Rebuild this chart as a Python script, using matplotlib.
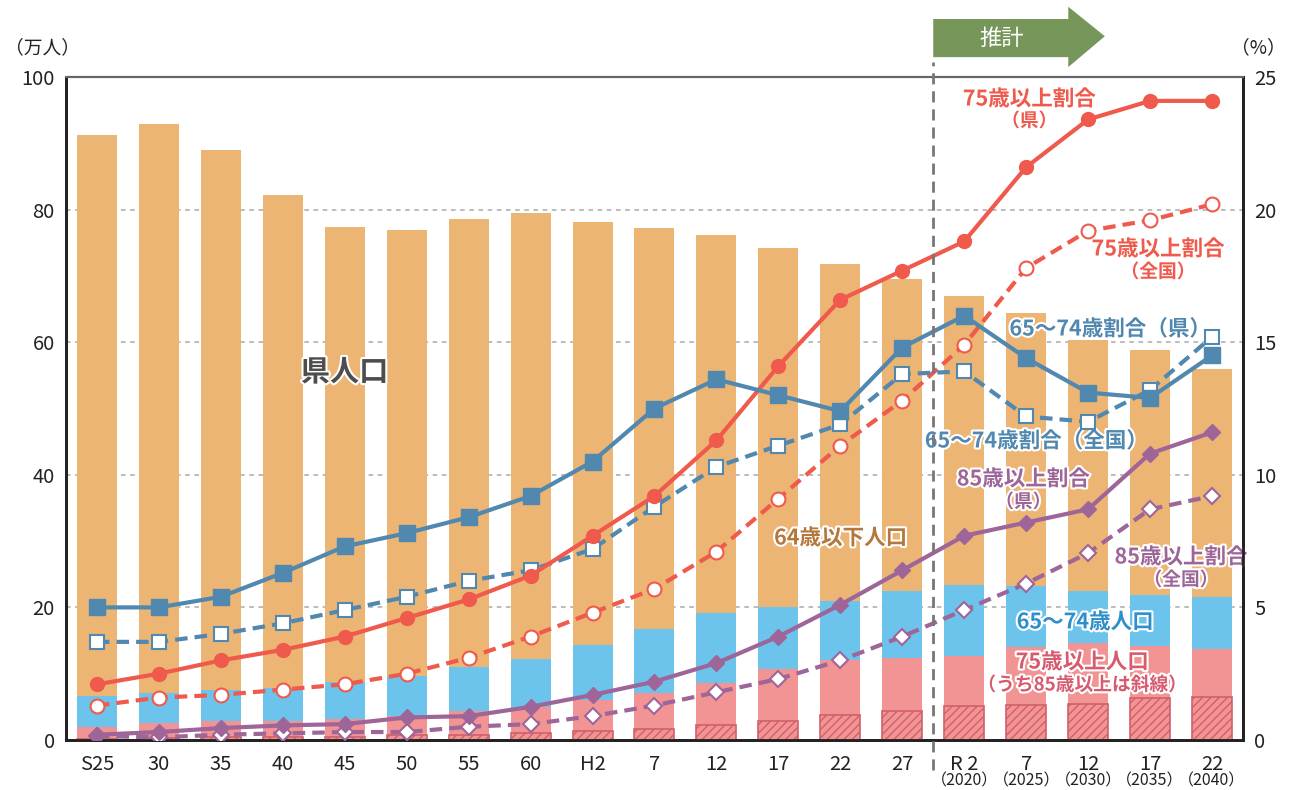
import matplotlib
matplotlib.use("Agg")
from matplotlib import pyplot as plt
from matplotlib import patches
import matplotlib.patheffects as pe
import matplotlib.transforms as mtransforms

plt.rcParams['font.family'] = ['Noto Sans CJK JP', 'DejaVu Sans']
plt.rcParams['hatch.linewidth'] = 1.0

# categories (year labels)
labels = ['S25', '30', '35', '40', '45', '50', '55', '60', 'H2', '7', '12',
          '17', '22', '27', 'R 2', '7', '12', '17', '22']
years = [''] * 14 + ['（2020）', '（2025）', '（2030）', '（2035）', '（2040）']

# population (万人)
pop_total = [91.2, 92.9, 89.0, 82.2, 77.4, 76.9, 78.6, 79.5, 78.1, 77.2, 76.2,
             74.2, 71.8, 69.5, 67.0, 64.4, 60.3, 58.8, 56.0]
pop_65_74 = [4.7, 4.6, 4.8, 5.0, 5.6, 6.1, 6.7, 7.2, 8.2, 9.6, 10.5,
             9.4, 8.9, 10.1, 10.7, 9.2, 7.9, 7.7, 7.9]
pop_75 = [2.0, 2.5, 2.8, 2.9, 3.2, 3.6, 4.3, 5.0, 6.1, 7.1, 8.6,
          10.7, 12.0, 12.3, 12.7, 14.0, 14.6, 14.2, 13.7]
pop_85 = [0.2, 0.3, 0.4, 0.5, 0.5, 0.7, 0.75, 1.0, 1.35, 1.7, 2.3,
          2.9, 3.7, 4.4, 5.2, 5.3, 5.4, 6.4, 6.5]

# ratios (%)
r75_pref = [2.1, 2.5, 3.0, 3.4, 3.9, 4.6, 5.3, 6.2, 7.7, 9.2, 11.3,
            14.1, 16.6, 17.7, 18.8, 21.6, 23.4, 24.1, 24.1]
r75_nat = [1.3, 1.6, 1.7, 1.9, 2.1, 2.5, 3.1, 3.9, 4.8, 5.7, 7.1,
           9.1, 11.1, 12.8, 14.9, 17.8, 19.2, 19.6, 20.2]
r6574_pref = [5.0, 5.0, 5.4, 6.3, 7.3, 7.8, 8.4, 9.2, 10.5, 12.5, 13.6,
              13.0, 12.4, 14.8, 16.0, 14.4, 13.1, 12.9, 14.5]
r6574_nat = [3.7, 3.7, 4.0, 4.4, 4.9, 5.4, 6.0, 6.4, 7.2, 8.8, 10.3,
             11.1, 11.9, 13.8, 13.9, 12.2, 12.0, 13.2, 15.2]
r85_pref = [0.2, 0.3, 0.45, 0.55, 0.6, 0.85, 0.9, 1.25, 1.7, 2.2, 2.9,
            3.9, 5.1, 6.4, 7.7, 8.2, 8.7, 10.8, 11.6]
r85_nat = [0.15, 0.1, 0.2, 0.25, 0.3, 0.3, 0.5, 0.6, 0.9, 1.3, 1.8,
           2.3, 3.0, 3.9, 4.9, 5.9, 7.05, 8.7, 9.2]

ORANGE = '#edb574'
LBLUE = '#6cc4ed'
PINK = '#f29494'
HATCH = '#d0606a'
RED = '#ef5a4c'
BLUE = '#5088b0'
PURPLE = '#9e6599'

x = list(range(len(labels)))
top_75 = pop_75
top_6574 = [a + b for a, b in zip(pop_65_74, pop_75)]

fig = plt.figure(figsize=(12.91, 7.90), dpi=100)
ax = fig.add_axes([0.0511, 0.0633, 0.9117, 0.8392])
ax2 = ax.twinx()

w = 0.645
ax.bar(x, pop_total, width=w, color=ORANGE, zorder=2)
ax.bar(x, top_6574, width=w, color=LBLUE, zorder=2)
ax.bar(x, top_75, width=w, color=PINK, zorder=2)
ax.bar(x, pop_85, width=w, color=PINK, edgecolor=HATCH, hatch='////',
       linewidth=1.2, zorder=3)

for y in [20, 40, 60, 80]:
    ax.axhline(y, color='#aaaaaa', lw=1.1, ls=(0, (3, 3)), zorder=1)

ax.set_xlim(-0.5, 18.5)
ax.set_ylim(0, 100)
ax2.set_ylim(0, 25)
ax.set_yticks([0, 20, 40, 60, 80, 100])
ax2.set_yticks([0, 5, 10, 15, 20, 25])
ax.set_xticks(x)
ax.set_xticklabels(labels)
ax.tick_params(axis='both', length=0, labelsize=14.5, colors='#222222', pad=8)
ax.tick_params(axis='x', pad=10)
ax2.tick_params(axis='y', length=0, labelsize=14.5, colors='#222222', pad=8)

trans = mtransforms.blended_transform_factory(ax.transData, ax.transAxes)
for xi, yr in zip(x, years):
    if yr:
        ax.text(xi, -0.062, yr, transform=trans, ha='center', va='center',
                fontsize=11.5, color='#222222')

for a in (ax, ax2):
    for s in ['left', 'right', 'bottom']:
        a.spines[s].set_color('#222222')
        a.spines[s].set_linewidth(2)
    a.spines['top'].set_color('#666666')
    a.spines['top'].set_linewidth(1.5)

dash = (0, (3, 1.7))
lw = 3.0
ax2.plot(x, r85_nat, color=PURPLE, lw=lw, ls=dash, marker='D', ms=8,
         mfc='white', mec=PURPLE, mew=1.5, zorder=4)
ax2.plot(x, r85_pref, color=PURPLE, lw=lw, marker='D', ms=8, mfc=PURPLE,
         mec=PURPLE, zorder=5)
ax2.plot(x, r75_nat, color=RED, lw=lw, ls=dash, marker='o', ms=10,
         mfc='white', mec=RED, mew=1.5, zorder=4)
ax2.plot(x, r75_pref, color=RED, lw=lw, marker='o', ms=10, mfc=RED,
         mec=RED, zorder=5)
ax2.plot(x, r6574_nat, color=BLUE, lw=lw, ls=dash, marker='s', ms=10,
         mfc='white', mec=BLUE, mew=1.5, zorder=4)
ax2.plot(x, r6574_pref, color=BLUE, lw=lw, marker='s', ms=11, mfc=BLUE,
         mec=BLUE, zorder=5)

# projection divider and arrow
ax2.axvline(13.5, ymin=-0.045, ymax=1.023, color='#777777', lw=2,
            ls=(0, (4, 2.5)), clip_on=False, zorder=6)
arrow = patches.Polygon([(13.5, 1.030), (15.68, 1.030), (15.68, 1.015),
                         (16.27, 1.0615), (15.68, 1.106), (15.68, 1.0875),
                         (13.5, 1.0875)],
                        closed=True, transform=trans, facecolor='#76965a',
                        edgecolor='none', clip_on=False, zorder=7)
ax.add_patch(arrow)
ax.text(14.6, 1.0585, '推計', transform=trans, ha='center', va='center',
        fontsize=16, color='white', zorder=8)

fig.text(0.004, 0.939, '（万人）', ha='left', va='center', fontsize=13.5,
         color='#222222')
fig.text(0.996, 0.939, '（%）', ha='right', va='center', fontsize=13.5,
         color='#222222')

outline = [pe.withStroke(linewidth=3, foreground='white')]


def label(xp, yp, s, color, size=15.5):
    ax.text(xp, yp, s, transform=ax.transData, ha='center', va='center',
            fontsize=size, color=color, fontweight='bold',
            path_effects=outline, zorder=9)


def px(xpix, ypix):
    return (xpix - 97) / 62.06, (740 - ypix) / 6.63


label(*px(345, 372), '県人口', '#4d4d4d', size=21)
label(*px(842, 538), '64歳以下人口', '#b4773c')
label(*px(1087, 622), '65～74歳人口', '#2e8fca')
label(*px(1084, 662), '75歳以上人口', '#d65b6e')
label(*px(1084, 685), '（うち85歳以上は斜線）', '#d65b6e', size=13.5)
label(*px(1031, 99), '75歳以上割合', RED)
label(*px(1031, 121), '（県）', RED, size=13.5)
label(*px(1160, 249), '75歳以上割合', RED)
label(*px(1160, 272), '（全国）', RED, size=13.5)
label(*px(1112, 329), '65～74歳割合（県）', BLUE)
label(*px(1038, 441), '65～74歳割合（全国）', BLUE)
label(*px(1025, 479), '85歳以上割合', PURPLE)
label(*px(1025, 502), '（県）', PURPLE, size=13.5)
label(*px(1183, 557), '85歳以上割合', PURPLE)
label(*px(1183, 580), '（全国）', PURPLE, size=13.5)

fig.savefig('out.png', dpi=100)
